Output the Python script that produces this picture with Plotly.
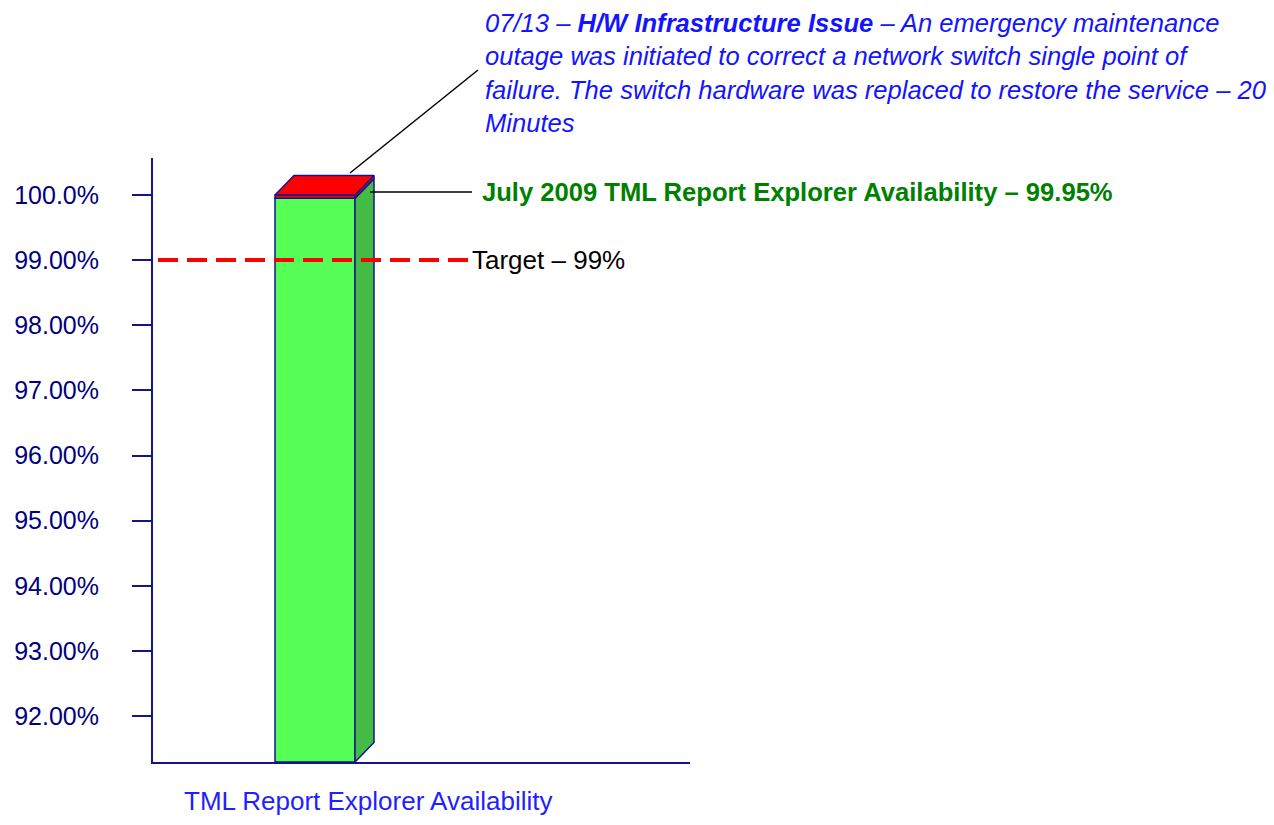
import plotly.graph_objects as go

# data
categories = ["TML Report Explorer Availability"]
availability = [99.95]
outage = [100 - v for v in availability]
target = 99.0
tick_values = [92, 93, 94, 95, 96, 97, 98, 99, 100]
tick_labels = ["92.00%", "93.00%", "94.00%", "95.00%", "96.00%",
               "97.00%", "98.00%", "99.00%", "100.0%"]

incident_text = ("07/13 – <b>H/W Infrastructure Issue</b> – An emergency maintenance<br>"
                 "outage was initiated to correct a network switch single point of<br>"
                 "failure. The switch hardware was replaced to restore the service – 20<br>"
                 "Minutes")
summary_text = "July 2009 TML Report Explorer Availability – 99.95%"
target_text = "Target – 99%"

# look
NAVY = "#14148c"
FONT = "Liberation Sans, Arial, sans-serif"
y_range = [91.294, 100.568]
x_range = [-1.62, 3.75]
bar_w = 0.8
depth_x = 0.19
depth_y = 0.3

x0 = 0
xl = x0 - bar_w / 2
xr = x0 + bar_w / 2
top = availability[0] + outage[0]
ymin = y_range[0]

fig = go.Figure()

fig.add_trace(go.Bar(x=[x0], y=[availability[0] - ymin], base=[ymin], width=bar_w,
                     marker=dict(color="#55ff55", line=dict(color=NAVY, width=1.5)),
                     name=categories[0]))
fig.add_trace(go.Bar(x=[x0], y=outage, base=availability, width=bar_w,
                     marker=dict(color="#ff0000", line=dict(color=NAVY, width=1.5)),
                     name="Outage"))

# 3d side faces / top
fig.add_trace(go.Scatter(
    x=[xr, xr + depth_x, xr + depth_x, xr, xr],
    y=[ymin, ymin + depth_y, availability[0] + depth_y, availability[0], ymin],
    fill="toself", fillcolor="#44bb44", mode="lines",
    line=dict(color=NAVY, width=1.5)))
fig.add_trace(go.Scatter(
    x=[xr, xr + depth_x, xr + depth_x, xr, xr],
    y=[availability[0], availability[0] + depth_y, top + depth_y, top, availability[0]],
    fill="toself", fillcolor="#ff0000", mode="lines",
    line=dict(color=NAVY, width=1.5)))
fig.add_trace(go.Scatter(
    x=[xl, xr, xr + depth_x, xl + depth_x, xl],
    y=[top, top, top + depth_y, top + depth_y, top],
    fill="toself", fillcolor="#ff0000", mode="lines",
    line=dict(color=NAVY, width=1.5)))

# target line
fig.add_trace(go.Scatter(x=[-1.57, 1.55], y=[target, target], mode="lines",
                         line=dict(color="#ff0000", width=4, dash="20px,9px")))

fig.update_traces(hoverinfo="skip")


# page pixel -> paper coords (plot area 153..690 x 158..762 on the page)
def px_x(p):
    return (p - 153) / 537


def px_y(p):
    return (762 - p) / 604


fig.add_shape(type="line", xref="paper", yref="paper",
              x0=px_x(350), y0=px_y(173), x1=px_x(478), y1=px_y(70),
              line=dict(color="black", width=1.5))
fig.add_shape(type="line", xref="paper", yref="paper",
              x0=px_x(370), y0=px_y(192), x1=px_x(472), y1=px_y(192),
              line=dict(color="black", width=1.5))

fig.add_annotation(text=incident_text, xref="paper", yref="paper",
                   x=px_x(483), y=px_y(7), xanchor="left", yanchor="top",
                   align="left", showarrow=False,
                   font=dict(family=FONT, size=25.6, color="#1414ff", style="italic"))
fig.add_annotation(text="<b>" + summary_text + "</b>", xref="paper", yref="paper",
                   x=px_x(480), y=px_y(192), xanchor="left", yanchor="middle",
                   showarrow=False, font=dict(family=FONT, size=25.6, color="#008000"))
fig.add_annotation(text=target_text, xref="paper", yref="y",
                   x=px_x(470), y=target, xanchor="left", yanchor="middle",
                   showarrow=False, font=dict(family=FONT, size=26, color="black"))
fig.add_annotation(text=categories[0], xref="paper", yref="paper",
                   x=px_x(368), y=px_y(801), xanchor="center", yanchor="middle",
                   showarrow=False, font=dict(family=FONT, size=26, color="#1f1fff"))

# page has an 8px body margin: keep the figure inside the window (no scrollbars)
fig.update_layout(
    width=1266, height=809,
    margin=dict(l=145, r=584, t=150, b=55),
    plot_bgcolor="white", paper_bgcolor="white",
    showlegend=False,
    barmode="overlay",
    font=dict(family=FONT),
    xaxis=dict(range=x_range, showticklabels=False, ticks="", showgrid=False,
               zeroline=False, showline=True, linecolor=NAVY, linewidth=2,
               automargin=False),
    yaxis=dict(range=y_range, tickvals=tick_values, ticktext=tick_labels,
               ticks="outside", ticklen=19, tickwidth=1.5, tickcolor=NAVY,
               ticklabelstandoff=28, automargin=False,
               tickfont=dict(family=FONT, size=25, color="#000080"),
               showgrid=False, zeroline=False, showline=True,
               linecolor=NAVY, linewidth=2),
)

fig.write_html("out.html")
